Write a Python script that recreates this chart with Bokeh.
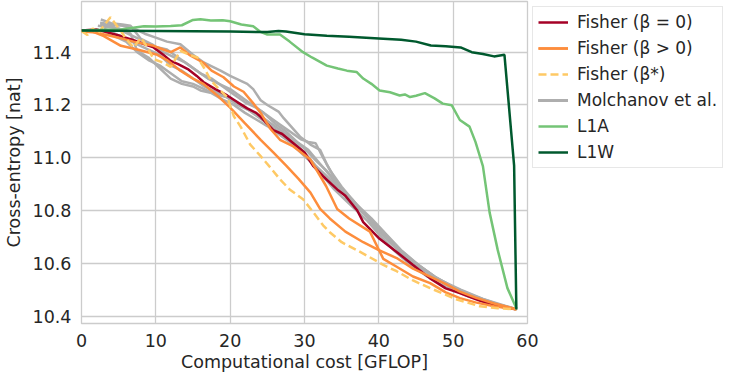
from bokeh.plotting import figure
from bokeh.models import Range1d, FixedTicker, Legend, LegendItem, NumeralTickFormatter
from bokeh.embed import file_html
from bokeh.resources import INLINE

# ---------------- data ----------------
x_ticks = [0, 10, 20, 30, 40, 50, 60]
y_ticks = [10.4, 10.6, 10.8, 11.0, 11.2, 11.4]

l1w_x = [0, 5, 10, 15, 20, 25, 26.5, 27.5, 30, 33, 36, 40, 43, 45, 47, 49, 51, 52.5, 54, 55.5, 56.9, 58.2, 58.5]
l1w_y = [11.482, 11.481, 11.480, 11.479, 11.478, 11.476, 11.480, 11.478, 11.468, 11.462, 11.458, 11.452, 11.447,
         11.440, 11.425, 11.422, 11.418, 11.400, 11.393, 11.384, 11.390, 10.970, 10.425]

l1a_x = [0, 2, 5.3, 8.4, 10, 12, 13.5, 15, 16, 17.4, 19, 20, 21.5, 23.1, 24, 25, 26.7, 28, 29.8, 31, 33, 34.5,
         35.7, 37, 37.9, 39, 40.1, 41.5, 42.8, 43.5, 44.2, 45, 46.2, 47.5, 48.6, 49.8, 50.9, 52.2, 53, 54, 54.9,
         56, 57.3, 58.5]
l1a_y = [11.482, 11.484, 11.486, 11.498, 11.497, 11.499, 11.502, 11.522, 11.525, 11.520, 11.521, 11.517, 11.505,
         11.498, 11.478, 11.467, 11.467, 11.440, 11.400, 11.380, 11.349, 11.338, 11.330, 11.325, 11.300, 11.280,
         11.255, 11.248, 11.236, 11.240, 11.230, 11.235, 11.245, 11.225, 11.205, 11.199, 11.143, 11.118, 11.060,
         10.968, 10.793, 10.650, 10.506, 10.430]

f0_x = [0, 2, 3.5, 5.3, 7, 8.5, 9.7, 11, 12, 13, 14.3, 15.5, 16.4, 18, 19.6, 21, 22.3, 23.5, 24.1, 25.8, 27,
        28.5, 30, 31.2, 32.5, 34.4, 35.5, 37.1, 37.9, 40.1, 42.4, 44.6, 46.9, 49, 50.9, 53, 55, 56.5, 58.5]
f0_y = [11.482, 11.486, 11.475, 11.461, 11.445, 11.430, 11.418, 11.390, 11.367, 11.355, 11.336, 11.310, 11.287,
        11.260, 11.236, 11.210, 11.187, 11.170, 11.155, 11.105, 11.090, 11.055, 11.020, 10.968, 10.930, 10.880,
        10.856, 10.800, 10.756, 10.693, 10.643, 10.594, 10.543, 10.505, 10.487, 10.465, 10.445, 10.435, 10.426]

fb_x = [0, 2, 3, 5, 7, 9.7, 11, 12, 13.3, 14.5, 16.4, 17.5, 19.1, 20.5, 21.8, 23, 24.1, 25.4, 26.7, 28.5,
        30.8, 32.9, 34.4, 36, 38.8, 40.6, 42.4, 44.6, 46.9, 49, 50.9, 53, 55.5, 58.5]
fb_y = [11.478, 11.475, 11.468, 11.455, 11.440, 11.424, 11.410, 11.400, 11.418, 11.390, 11.360, 11.330, 11.305,
        11.270, 11.250, 11.210, 11.170, 11.110, 11.068, 11.043, 10.993, 10.893, 10.806, 10.770, 10.720, 10.617,
        10.587, 10.550, 10.525, 10.490, 10.468, 10.452, 10.437, 10.426]

fa_x = [0, 1.5, 3, 5.3, 7.5, 10.2, 11.5, 13.3, 15, 16.4, 18.5, 20, 22, 24.1, 25.8, 27.6, 29.2, 30.8, 32.1, 33.4,
        35.5, 37.9, 40, 42.4, 44.6, 46.9, 49.1, 50.9, 53, 55.5, 58.5]
fa_y = [11.480, 11.478, 11.461, 11.424, 11.410, 11.390, 11.370, 11.330, 11.300, 11.280, 11.230, 11.190, 11.130,
        11.068, 11.020, 10.968, 10.920, 10.868, 10.806, 10.770, 10.720, 10.680, 10.650, 10.620, 10.580, 10.550,
        10.520, 10.493, 10.470, 10.448, 10.426]

fs_x = [0, 0.8, 1.5, 2.2, 3, 3.9, 4.5, 5.3, 6, 7, 8, 8.8, 9.7, 11, 12, 13.3, 14.5, 15.6, 16.5, 17.4, 18.5, 19.6,
        20.5, 21.4, 22.7, 24.1, 25.5, 26.7, 28, 29.8, 31, 32.5, 33.4, 35, 37.9, 40.6, 42.4, 44.6, 46.9, 49.1,
        50.4, 53.6, 56, 58.5]
fs_y = [11.480, 11.465, 11.490, 11.470, 11.500, 11.532, 11.510, 11.480, 11.450, 11.418, 11.455, 11.420, 11.374,
        11.360, 11.344, 11.405, 11.390, 11.380, 11.340, 11.293, 11.260, 11.230, 11.157, 11.118, 11.050, 11.006,
        10.960, 10.918, 10.880, 10.843, 10.800, 10.744, 10.718, 10.680, 10.637, 10.594, 10.570, 10.535, 10.506,
        10.480, 10.464, 10.437, 10.430, 10.426]

g1_x = [2.5, 4, 5.5, 7, 8.5, 10, 11.5, 13.3, 15, 16.5, 18.7, 20, 22.3, 23.1, 24.1, 25, 26.5, 27.2, 29.4, 30.8,
        32.1, 33, 33.9, 35.7, 37, 38.5, 40.6, 42.5, 45, 47.5, 50, 53, 56, 58.5]
g1_y = [11.512, 11.505, 11.500, 11.490, 11.470, 11.455, 11.440, 11.430, 11.390, 11.360, 11.330, 11.310, 11.280,
        11.260, 11.218, 11.200, 11.175, 11.150, 11.080, 11.050, 11.030, 10.975, 10.930, 10.843, 10.820, 10.780,
        10.720, 10.660, 10.600, 10.550, 10.510, 10.470, 10.440, 10.426]
g2_x = [2.2, 3.5, 5, 6.6, 7.5, 9, 10.5, 12, 13.5, 15, 16, 17.5, 19, 20.5, 22, 23.5, 25, 26.5, 28, 29.5, 31,
        32.5, 34, 35.5, 37, 38.5, 40, 42, 44, 46.5, 49, 52, 55, 58.5]
g2_y = [11.500, 11.495, 11.490, 11.470, 11.405, 11.380, 11.340, 11.300, 11.280, 11.270, 11.255, 11.245, 11.220,
        11.200, 11.170, 11.145, 11.120, 11.090, 11.060, 11.020, 10.980, 10.930, 10.880, 10.840, 10.800, 10.760,
        10.710, 10.650, 10.600, 10.550, 10.510, 10.475, 10.450, 10.426]
g3_x = [2.6, 4, 5.5, 6.6, 8, 9.5, 11, 12.5, 14, 15.5, 17, 18.5, 20, 21.5, 23, 24.5, 26, 27.5, 29, 30.5, 32,
        33.5, 35, 36.5, 38, 40, 42, 44, 46, 48.5, 51, 54, 58.5]
g3_y = [11.524, 11.510, 11.505, 11.500, 11.450, 11.430, 11.400, 11.380, 11.360, 11.330, 11.300, 11.280, 11.260,
        11.230, 11.200, 11.170, 11.130, 11.100, 11.060, 11.030, 10.980, 10.930, 10.880, 10.840, 10.790, 10.730,
        10.670, 10.620, 10.575, 10.530, 10.490, 10.460, 10.426]
g4_x = [3, 4.5, 6, 7.5, 9, 10.5, 12, 13.5, 15, 16.5, 18, 19.5, 21, 22.5, 24, 25.5, 27, 28.5, 30, 31.5, 33,
        34.5, 36, 37.5, 39, 41, 43, 45, 47.5, 50, 53, 56, 58.5]
g4_y = [11.490, 11.470, 11.450, 11.430, 11.410, 11.390, 11.350, 11.330, 11.300, 11.270, 11.250, 11.230, 11.210,
        11.180, 11.160, 11.130, 11.100, 11.070, 11.035, 10.990, 10.950, 10.900, 10.850, 10.800, 10.760, 10.700,
        10.640, 10.600, 10.550, 10.510, 10.475, 10.445, 10.426]
g5_x = [2, 3, 4.5, 6, 7.5, 9, 10.5, 12, 13.5, 15, 16.5, 18, 19.5, 21, 22.5, 24, 25.5, 27, 28.5, 30, 31.5, 33,
        34.5, 36, 37.5, 39, 41, 43, 45.5, 48, 51, 54, 58.5]
g5_y = [11.485, 11.480, 11.460, 11.440, 11.400, 11.370, 11.350, 11.320, 11.290, 11.280, 11.260, 11.240, 11.230,
        11.200, 11.180, 11.150, 11.120, 11.090, 11.060, 11.020, 10.970, 10.930, 10.890, 10.850, 10.810, 10.770,
        10.710, 10.650, 10.590, 10.540, 10.500, 10.465, 10.426]
g6_x = [2.5, 4, 5.5, 7, 8.5, 10, 11.5, 13, 14.5, 16, 17.5, 19, 20.5, 22, 23.5, 25, 26.5, 28, 29.5, 30.5, 31.5,
        32.5, 33.5, 35, 36.5, 38, 40, 42, 44, 46.5, 49, 52, 55, 58.5]
g6_y = [11.505, 11.500, 11.480, 11.460, 11.440, 11.420, 11.410, 11.380, 11.350, 11.320, 11.300, 11.270, 11.240,
        11.210, 11.190, 11.160, 11.130, 11.100, 11.070, 11.060, 11.055, 11.000, 10.950, 10.890, 10.840, 10.790,
        10.720, 10.665, 10.615, 10.565, 10.520, 10.480, 10.450, 10.426]

gray_x = [g1_x, g2_x, g3_x, g4_x, g5_x, g6_x]
gray_y = [g1_y, g2_y, g3_y, g4_y, g5_y, g6_y]

# ---------------- figure ----------------
TXT = "#262626"
GRID = "#cccccc"
FONT = "DejaVu Sans"

p = figure(frame_width=446, frame_height=322, output_backend="svg", toolbar_location=None,
           x_range=Range1d(0, 60), y_range=Range1d(10.372, 11.592),
           min_border_left=10, min_border_right=0, min_border_top=1, min_border_bottom=10)

p.background_fill_color = "white"
p.border_fill_color = "white"
p.outline_line_color = GRID
p.outline_line_width = 1.3

for ax in (p.xaxis[0], p.yaxis[0]):
    ax.axis_line_color = None
    ax.major_tick_line_color = None
    ax.minor_tick_line_color = None
    ax.major_tick_out = 0
    ax.major_tick_in = 0
    ax.minor_tick_out = 0
    ax.minor_tick_in = 0
    ax.major_label_text_font = FONT
    ax.major_label_text_font_size = "17.5px"
    ax.major_label_text_color = TXT
    ax.axis_label_text_font = FONT
    ax.axis_label_text_font_size = "17.5px"
    ax.axis_label_text_font_style = "normal"
    ax.axis_label_text_color = TXT

p.xaxis[0].ticker = FixedTicker(ticks=x_ticks)
p.yaxis[0].ticker = FixedTicker(ticks=y_ticks)
p.yaxis[0].formatter = NumeralTickFormatter(format="0.0")
p.xaxis[0].axis_label = "Computational cost [GFLOP]"
p.yaxis[0].axis_label = "Cross-entropy [nat]"
p.xaxis[0].major_label_standoff = 10
p.yaxis[0].major_label_standoff = 10
p.xaxis[0].axis_label_standoff = 2
p.yaxis[0].axis_label_standoff = 6

p.xgrid.ticker = FixedTicker(ticks=x_ticks)
p.ygrid.ticker = FixedTicker(ticks=y_ticks)
p.xgrid.grid_line_color = GRID
p.ygrid.grid_line_color = GRID
p.xgrid.grid_line_width = 1.3
p.ygrid.grid_line_width = 1.3

LW = 2.5
gray_r = []
for gx, gy in zip(gray_x, gray_y):
    gray_r.append(p.line(gx, gy, line_color="#aeaeae", line_width=LW))

r_f0 = p.line(f0_x, f0_y, line_color="#a50026", line_width=LW)
r_fa = p.line(fa_x, fa_y, line_color="#fd8d3c", line_width=LW)
r_fb = p.line(fb_x, fb_y, line_color="#fd8d3c", line_width=LW)
r_fs = p.line(fs_x, fs_y, line_color="#fec965", line_width=LW, line_dash="8 4")
r_l1a = p.line(l1a_x, l1a_y, line_color="#74c476", line_width=LW)
r_l1w = p.line(l1w_x, l1w_y, line_color="#00592e", line_width=LW)

legend = Legend(items=[
    LegendItem(label="Fisher (β = 0)", renderers=[r_f0]),
    LegendItem(label="Fisher (β > 0)", renderers=[r_fa, r_fb]),
    LegendItem(label="Fisher (β*)", renderers=[r_fs]),
    LegendItem(label="Molchanov et al.", renderers=gray_r),
    LegendItem(label="L1A", renderers=[r_l1a]),
    LegendItem(label="L1W", renderers=[r_l1w]),
], location="top_left")
legend.label_text_font = FONT
legend.label_text_font_size = "17px"
legend.label_text_color = TXT
legend.label_height = 20
legend.glyph_height = 20
legend.glyph_width = 30
legend.spacing = 6
legend.padding = 5
legend.margin = 5
legend.label_standoff = 9
legend.border_line_color = "#d0d0d0"
legend.border_line_width = 1
legend.background_fill_color = "white"
legend.background_fill_alpha = 0.9
p.add_layout(legend, "right")

open("out.html", "w").write(file_html(p, INLINE))
